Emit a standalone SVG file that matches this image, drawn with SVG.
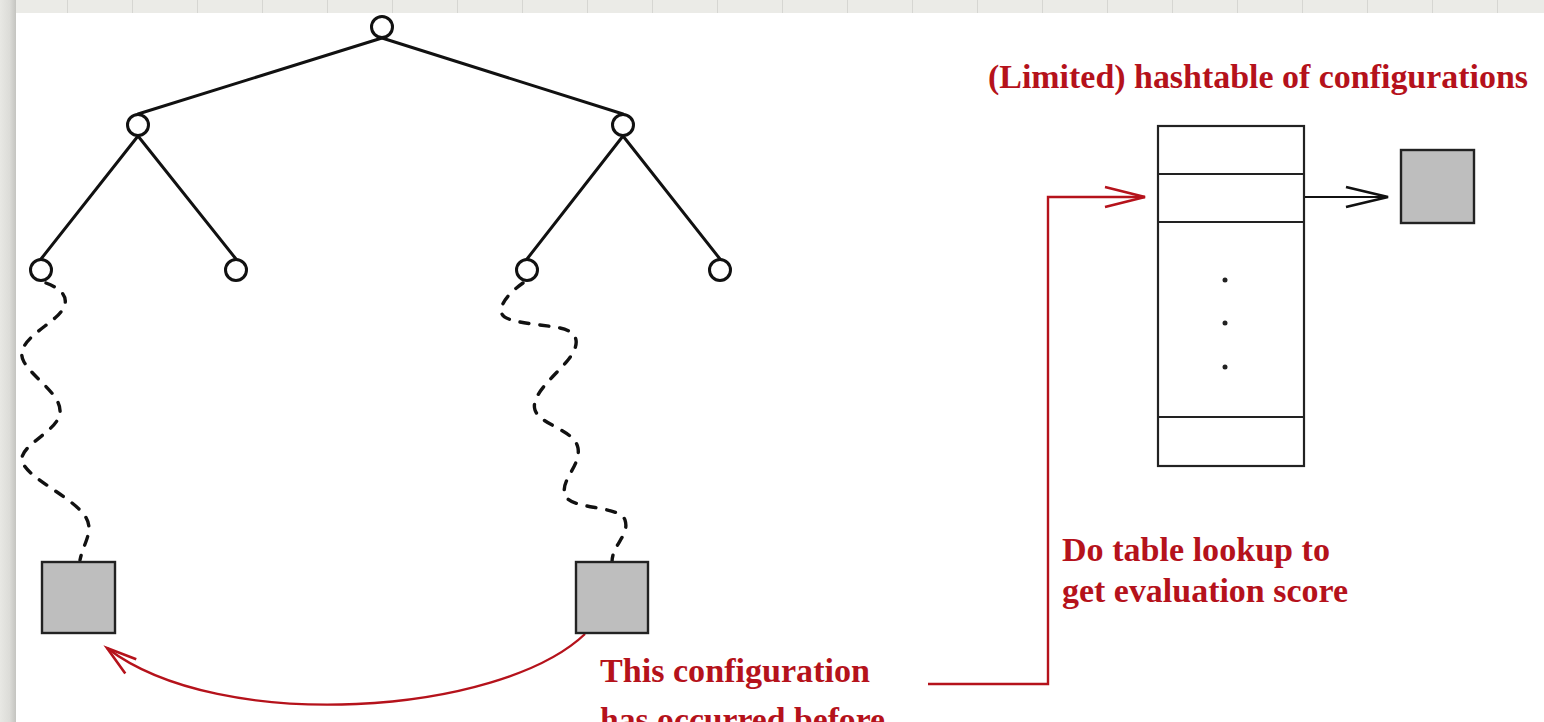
<svg xmlns="http://www.w3.org/2000/svg" width="1544" height="722" viewBox="0 0 1544 722">
  <defs>
    <style>
      .edge { stroke: #111; stroke-width: 3; fill: none; stroke-linecap: round; }
      .wiggle { stroke: #111; stroke-width: 3.4; fill: none; stroke-dasharray: 9 11; stroke-linecap: round; }
      .tnode { fill: #fff; stroke: #111; stroke-width: 3; }
      .config { fill: #bebebe; stroke: #222; stroke-width: 2.4; }
      .cell { fill: #fff; stroke: #222; stroke-width: 2.2; }
      .red { stroke: #b5121b; stroke-width: 2.4; fill: none; }
      .blk { stroke: #111; stroke-width: 1.8; fill: none; }
      .lbl { font-family: "Liberation Serif", "Times New Roman", serif; font-weight: bold; font-size: 33px; fill: #b5121b; }
    </style>
    <linearGradient id="leftShade" x1="0" y1="0" x2="1" y2="0">
      <stop offset="0" stop-color="#e8e8e4"/>
      <stop offset="0.6" stop-color="#dcdcd8"/>
      <stop offset="1" stop-color="#c4c4c0"/>
    </linearGradient>
    <pattern id="topGrid" x="2" y="0" width="65" height="13" patternUnits="userSpaceOnUse">
      <rect width="65" height="13" fill="#ebebe7"/>
      <line x1="0.5" y1="0" x2="0.5" y2="13" stroke="#d6d6d2" stroke-width="1"/>
    </pattern>
    <marker id="arrowRed" markerUnits="userSpaceOnUse" markerWidth="60" markerHeight="30" viewBox="-50 -15 60 30" refX="0" refY="0" orient="auto">
      <path d="M-40,-10 L0,0 L-40,10" fill="none" stroke="#b5121b" stroke-width="2.6"/>
    </marker>
    <marker id="arrowRedArc" markerUnits="userSpaceOnUse" markerWidth="50" markerHeight="30" viewBox="-40 -15 50 30" refX="0" refY="0" orient="auto">
      <path d="M-30,-9 L0,0 L-30,9" fill="none" stroke="#b5121b" stroke-width="2.6"/>
    </marker>
    <marker id="arrowBlk" markerUnits="userSpaceOnUse" markerWidth="60" markerHeight="30" viewBox="-50 -15 60 30" refX="0" refY="0" orient="auto">
      <path d="M-42,-10 L0,0 L-42,10" fill="none" stroke="#111" stroke-width="2.8"/>
    </marker>
  </defs>

  <!-- page background -->
  <rect x="0" y="0" width="1544" height="722" fill="#ffffff"/>
  <rect x="0" y="0" width="1544" height="13" fill="url(#topGrid)"/>
  <rect x="0" y="0" width="16" height="722" fill="url(#leftShade)"/>

  <!-- connectors -->
  <g id="connectors">
    <line class="edge" x1="382" y1="38" x2="138" y2="114"/>
    <line class="edge" x1="382" y1="38" x2="623" y2="114"/>
    <line class="edge" x1="138" y1="136" x2="41" y2="259"/>
    <line class="edge" x1="138" y1="136" x2="236" y2="259"/>
    <line class="edge" x1="623" y1="136" x2="527" y2="259"/>
    <line class="edge" x1="623" y1="136" x2="720" y2="259"/>
    <path class="wiggle" d="M46,283 C70,292 70,305 55,318 S14,345 24,362 S62,395 60,413 S20,445 22,460 S62,492 80,510 S84,540 80,560"/>
    <path class="wiggle" d="M523,283 C510,292 498,305 502,314 S540,324 560,328 S580,345 568,360 S530,395 535,410 S575,430 578,448 S560,480 565,495 S620,505 625,520 S612,545 612,562"/>
    <path class="red" d="M585,634 C500,715 220,735 107,648" marker-end="url(#arrowRedArc)"/>
    <polyline class="red" points="928,684 1048,684 1048,197 1145,197" marker-end="url(#arrowRed)"/>
    <line class="blk" x1="1304" y1="197" x2="1388" y2="197" marker-end="url(#arrowBlk)"/>
  </g>

  <!-- tree nodes -->
  <g id="n-root"><circle class="tnode" cx="382" cy="27" r="10.5"/></g>
  <g id="n-l"><circle class="tnode" cx="138" cy="125" r="10.5"/></g>
  <g id="n-r"><circle class="tnode" cx="623" cy="125" r="10.5"/></g>
  <g id="n-ll"><circle class="tnode" cx="41" cy="270" r="10.5"/></g>
  <g id="n-lr"><circle class="tnode" cx="236" cy="270" r="10.5"/></g>
  <g id="n-rl"><circle class="tnode" cx="527" cy="270" r="10.5"/></g>
  <g id="n-rr"><circle class="tnode" cx="720" cy="270" r="10.5"/></g>

  <!-- configurations -->
  <g id="config-left"><rect class="config" x="42" y="562" width="73" height="71"/></g>
  <g id="config-right"><rect class="config" x="576" y="562" width="72" height="71"/></g>
  <g id="config-stored"><rect class="config" x="1401" y="150" width="73" height="73"/></g>

  <!-- hashtable -->
  <g id="hashtable">
    <rect class="cell" x="1158" y="126" width="146" height="340"/>
    <line class="cell" x1="1158" y1="174" x2="1304" y2="174"/>
    <line class="cell" x1="1158" y1="222" x2="1304" y2="222"/>
    <line class="cell" x1="1158" y1="417" x2="1304" y2="417"/>
    <circle cx="1225" cy="280" r="2.5" fill="#222"/>
    <circle cx="1225" cy="323" r="2.5" fill="#222"/>
    <circle cx="1225" cy="367" r="2.5" fill="#222"/>
  </g>

  <!-- labels -->
  <g id="label-title"><text class="lbl" x="988" y="88" textLength="540" lengthAdjust="spacingAndGlyphs">(Limited) hashtable of configurations</text></g>
  <g id="label-lookup">
    <text class="lbl" x="1062" y="561" textLength="268" lengthAdjust="spacingAndGlyphs">Do table lookup to</text>
    <text class="lbl" x="1062" y="602" textLength="286" lengthAdjust="spacingAndGlyphs">get evaluation score</text>
  </g>
  <g id="label-occurred">
    <text class="lbl" x="600" y="682" textLength="270" lengthAdjust="spacingAndGlyphs">This configuration</text>
    <text class="lbl" x="600" y="731" textLength="285" lengthAdjust="spacingAndGlyphs">has occurred before</text>
  </g>
</svg>
